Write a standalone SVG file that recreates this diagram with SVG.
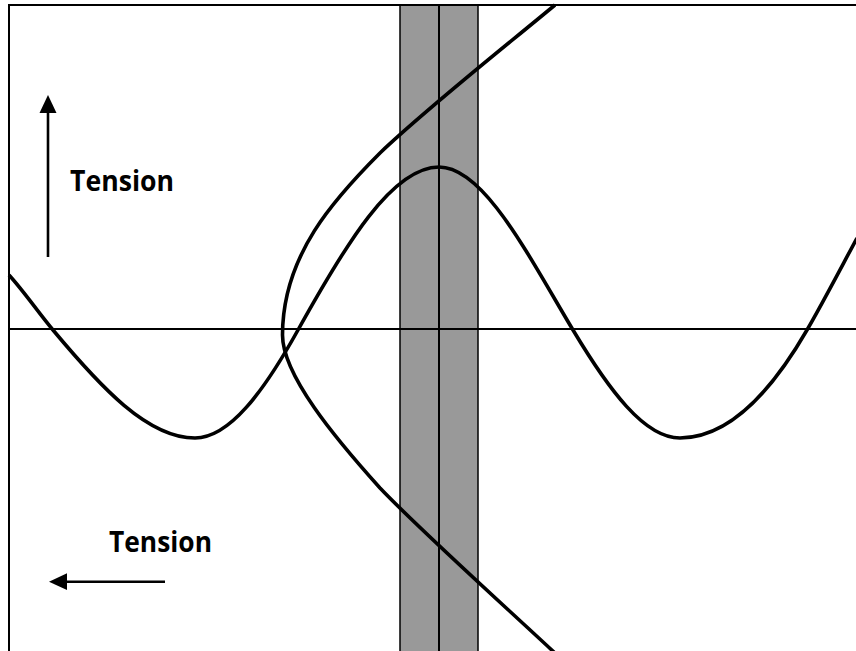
<svg xmlns="http://www.w3.org/2000/svg" width="856" height="651" viewBox="0 0 856 651">
<style>
.frame{stroke:#000;stroke-width:2;fill:none}
.curve{stroke:#000;stroke-width:3.6;fill:none;stroke-linecap:butt}
.arrow{stroke:#000;stroke-width:2.6;fill:none}
.head{fill:#000}
.lbl{font-family:"Open Sans","Liberation Sans",sans-serif;font-weight:bold;font-size:28px;fill:#000}
</style>
<rect width="856" height="651" fill="#fff"/>
<g id="band">
<rect x="400" y="5" width="78" height="650" fill="#999" stroke="#000" stroke-width="1.5"/>
<line x1="439" y1="5" x2="439" y2="651" stroke="#000" stroke-width="2"/>
</g>
<g id="frame">
<line class="frame" x1="9" y1="5" x2="856" y2="5"/>
<line class="frame" x1="9" y1="4" x2="9" y2="651"/>
<line class="frame" x1="9" y1="329" x2="856" y2="329"/>
</g>
<g id="connectors">
<path id="wave" class="curve" d="M9,275 C23.7,291.1 38.3,312.4 53,330 C100.3,386.8 147.7,438 195,438 C229.3,438 263.7,391.8 298,330 C345,245.4 392,167 439,167 C483.7,167 528.3,255.4 573,330 C608.7,389.6 644.3,438 680,438 C722.3,438 764.7,403.2 807,330 C823.3,301.8 839.7,270.2 857,238"/>
<path id="branch" class="curve" d="M555,5 C497,53 425,110 380,153 C335,198 282.5,255 282.5,335 C282.5,375 335,438 380,488 C420,530 498,600 556,654"/>
</g>
<g id="arrow-up">
<line class="arrow" x1="48" y1="257" x2="48" y2="110"/>
<polygon class="head" points="48,95 39.5,113 56.5,113"/>
</g>
<g id="arrow-left">
<line class="arrow" x1="165" y1="581.7" x2="64" y2="581.7"/>
<polygon class="head" points="49,581.7 67,573.3 67,590"/>
</g>
<g id="label-tension-1">
<text class="lbl" x="70" y="191" textLength="104" lengthAdjust="spacingAndGlyphs">Tension</text>
</g>
<g id="label-tension-2">
<text class="lbl" x="109" y="552" textLength="103" lengthAdjust="spacingAndGlyphs">Tension</text>
</g>
</svg>
